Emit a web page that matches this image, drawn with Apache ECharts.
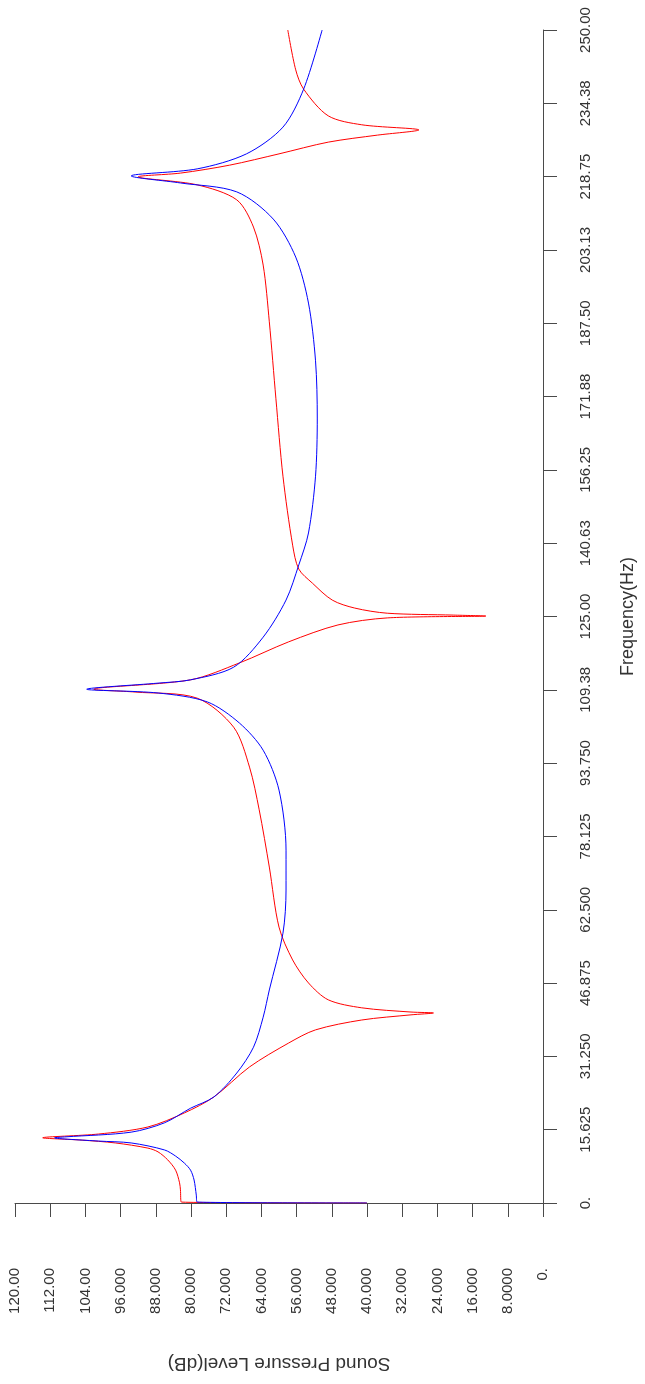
<!DOCTYPE html>
<html>
<head>
<meta charset="utf-8">
<title>Sound Pressure Level</title>
<script src="https://cdn.jsdelivr.net/npm/echarts@6/dist/echarts.min.js"></script>
<style>
  html, body { margin: 0; padding: 0; background: #fff; }
  #chart { width: 645px; height: 1384px; }
</style>
</head>
<body>
<div id="chart"></div>
<script>
// tick labels as printed on the original plot
const freqLabels = ['0.', '15.625', '31.250', '46.875', '62.500', '78.125', '93.750', '109.38',
  '125.00', '140.63', '156.25', '171.88', '187.50', '203.13', '218.75', '234.38', '250.00']
const splLabels = ['0.', '8.0000', '16.000', '24.000', '32.000', '40.000', '48.000', '56.000',
  '64.000', '72.000', '80.000', '88.000', '96.000', '104.00', '112.00', '120.00']

// red curve: [SPL dB, frequency Hz]
const redSpl = [40, 82.2, 82.4, 82.6, 83.5, 85.3, 87.5, 89.8, 97.2, 104.8, 113.7, 101.0, 89.8, 81.5, 74.8, 66.7, 57.8,
  51.7, 41.2, 30.0, 24.9, 30.0, 41.2, 48.8, 53.3, 56.9, 60.0, 62.2, 64.5, 66.7, 70.3, 78.6, 92.7,
  102.1, 80.1, 69.0, 57.8, 46.6, 35.4, 13.0, 20.4, 35.4, 42.8, 47.9, 52.4, 55.5, 56.9, 59.1, 60.7,
  62.2, 63.6, 65.8, 69.6, 78.6, 92.0, 82.4, 71.2, 60.0, 48.8, 37.6, 28.2, 41.2, 48.8, 54.4, 56.2, 58.0]
const redFreq = [0, 0.2, 2.8, 4.3, 7.0, 9.2, 10.9, 11.7, 12.8, 13.4, 13.9, 14.7, 16.2, 19.2, 22.6, 29.0, 34.1,
  36.9, 39.0, 40.1, 40.5, 40.7, 41.6, 43.3, 46.9, 51.8, 58.8, 71.6, 83.8, 92.9, 101.4, 107.6, 108.9,
  109.5, 111.5, 115.1, 119.6, 123.2, 124.7, 125.1, 125.3, 125.7, 126.8, 128.5, 132.1, 135.1, 140.2, 154.9, 171.4,
  187.8, 199.9, 208.0, 213.8, 217.0, 218.7, 219.5, 221.2, 223.6, 226.1, 227.6, 228.7, 229.8, 231.7, 237.4, 241.5, 250]

// blue curve: [SPL dB, frequency Hz]
const blueSpl = [40, 78.6, 78.8, 79.3, 80.1, 81.5, 83.5, 86.0, 93.6, 101.0, 111.0, 108.4, 93.6, 86.0, 80.1, 74.8, 69.6,
  65.8, 63.6, 62.2, 59.1, 58.4, 58.4, 60.0, 63.6, 69.0, 76.3, 87.5, 103.7, 87.5, 80.1, 70.3,
  63.6, 58.4, 55.5, 53.3, 51.7, 51.3, 51.7, 53.3, 56.2, 61.3, 69.6, 82.4, 93.6, 78.6, 67.4, 59.1,
  54.4, 50.2]
const blueFreq = [0, 0.2, 1.7, 4.9, 7.0, 8.5, 10.0, 11.3, 12.8, 13.2, 13.9, 14.1, 15.1, 17.1, 20.2, 22.6, 27.7,
  33.2, 39.6, 45.4, 57.5, 66.7, 75.2, 88.0, 96.5, 102.3, 106.8, 108.7, 109.5, 110.8, 111.5, 114.2,
  120.6, 128.5, 136.0, 142.8, 154.9, 167.3, 179.5, 191.8, 201.6, 209.7, 215.5, 217.4, 218.9, 220.4, 223.6, 229.3,
  237.4, 250]

const zip = (xs, ys) => xs.map((x, i) => [x, ys[i]])

const axisColor = '#4a4a4a'
const labelFont = 'Liberation Sans, Arial, sans-serif'

const myChart = echarts.init(document.getElementById('chart'), null, { renderer: 'canvas' })
myChart.setOption({
  backgroundColor: '#fff',
  animation: false,
  grid: {
    left: 15,
    right: 93,
    top: 30,
    bottom: 181
  },
  // sound pressure level runs along the bottom, 120 on the left
  xAxis: {
    type: 'value',
    inverse: true,
    min: 0,
    max: 120,
    interval: 8,
    position: 'bottom',
    name: 'Sound Pressure Level(dB)',
    nameLocation: 'middle',
    nameRotate: 180,
    nameGap: 151,
    nameTextStyle: { fontSize: 19, color: '#333', fontFamily: labelFont },
    splitLine: { show: false },
    axisLine: { lineStyle: { color: axisColor, width: 1 } },
    axisTick: { length: 14, lineStyle: { color: axisColor } },
    axisLabel: {
      rotate: 90,
      margin: 65,
      fontSize: 15,
      color: '#333',
      fontFamily: labelFont,
      showMinLabel: true,
      showMaxLabel: true,
      formatter: (v) => splLabels[Math.round(v / 8)]
    }
  },
  // frequency runs up the right side
  yAxis: {
    type: 'value',
    min: 0,
    max: 250,
    interval: 15.625,
    position: 'right',
    name: 'Frequency(Hz)',
    nameLocation: 'middle',
    nameRotate: 90,
    nameGap: 76,
    nameTextStyle: { fontSize: 18, color: '#333', fontFamily: labelFont },
    splitLine: { show: false },
    axisLine: { lineStyle: { color: axisColor, width: 1 } },
    axisTick: { length: 14, lineStyle: { color: axisColor } },
    axisLabel: {
      rotate: 90,
      margin: 35,
      fontSize: 15,
      color: '#333',
      fontFamily: labelFont,
      showMinLabel: true,
      showMaxLabel: true,
      formatter: (v) => freqLabels[Math.round(v / 15.625)]
    }
  },
  series: [
    {
      type: 'line',
      data: zip(redSpl, redFreq),
      showSymbol: false,
      smooth: 0.3,
      lineStyle: { color: '#ff0000', width: 1 }
    },
    {
      type: 'line',
      data: zip(blueSpl, blueFreq),
      showSymbol: false,
      smooth: 0.3,
      lineStyle: { color: '#0000ff', width: 1 }
    }
  ]
})
</script>
</body>
</html>
